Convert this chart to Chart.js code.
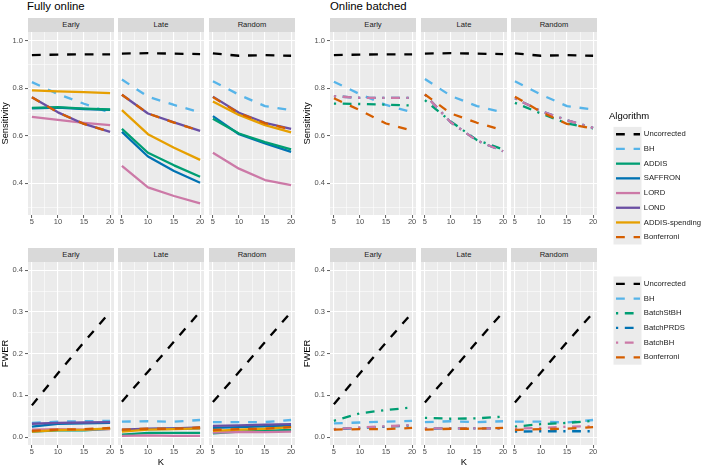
<!DOCTYPE html>
<html>
<head>
<meta charset="utf-8">
<script src="https://cdn.jsdelivr.net/npm/chart.js@4.4.1/dist/chart.umd.min.js"></script>
<style>
html, body { margin: 0; padding: 0; background: #ffffff; }
#root { position: relative; width: 709px; height: 469px; overflow: hidden; font-family: "Liberation Sans", Arial, Helvetica, sans-serif; }
#root canvas { position: absolute; }
.strip { position: absolute; background: #D9D9D9; color: #1A1A1A; font-size: 7.6px; text-align: center; white-space: nowrap; }
.gtitle { position: absolute; font-size: 11.4px; color: #000; white-space: nowrap; line-height: 13px; }
</style>
</head>
<body>
<div id="root"></div>
<script>
// ---------------- data ----------------
const kValues = [5, 10, 15, 20];
const facetNames = ['Early', 'Late', 'Random'];
const groupTitles = ['Fully online', 'Online batched'];
const kTicks = [5, 10, 15, 20];
const kMinorTicks = [7.5, 12.5, 17.5];
const sensTicks = [0.4, 0.6, 0.8, 1.0];
const sensMinorTicks = [0.3, 0.5, 0.7, 0.9];
const fwerTicks = [0.0, 0.1, 0.2, 0.3, 0.4];
const fwerMinorTicks = [0.05, 0.15, 0.25, 0.35];

const onlineAlgorithms = ['Uncorrected', 'BH', 'ADDIS', 'SAFFRON', 'LORD', 'LOND', 'ADDIS-spending', 'Bonferroni'];
const batchAlgorithms = ['Uncorrected', 'BH', 'BatchStBH', 'BatchPRDS', 'BatchBH', 'Bonferroni'];

// Fully online - Sensitivity  [Early, Late, Random] x K
const onlineSensUncorrected = [[0.940, 0.942, 0.943, 0.943], [0.946, 0.948, 0.946, 0.944], [0.947, 0.937, 0.940, 0.937]];
const onlineSensBH = [[0.826, 0.776, 0.735, 0.698], [0.837, 0.765, 0.730, 0.699], [0.830, 0.773, 0.725, 0.708]];
const onlineSensADDIS = [[0.718, 0.721, 0.715, 0.711], [0.629, 0.529, 0.476, 0.428], [0.672, 0.610, 0.574, 0.543]];
const onlineSensSAFFRON = [[0.716, 0.719, 0.713, 0.709], [0.617, 0.513, 0.452, 0.403], [0.683, 0.607, 0.568, 0.533]];
const onlineSensLORD = [[0.680, 0.667, 0.655, 0.645], [0.474, 0.383, 0.347, 0.316], [0.529, 0.462, 0.414, 0.393]];
const onlineSensLOND = [[0.762, 0.699, 0.650, 0.617], [0.773, 0.694, 0.657, 0.621], [0.765, 0.697, 0.655, 0.629]];
const onlineSensADDISspending = [[0.791, 0.787, 0.784, 0.780], [0.708, 0.607, 0.550, 0.499], [0.745, 0.688, 0.645, 0.615]];
const onlineSensBonferroni = [[0.762, 0.699, 0.650, 0.617], [0.773, 0.694, 0.656, 0.621], [0.763, 0.695, 0.653, 0.627]];

// Fully online - FWER
const onlineFwerUncorrected = [[0.076, 0.153, 0.228, 0.300], [0.085, 0.157, 0.229, 0.301], [0.084, 0.156, 0.228, 0.300]];
const onlineFwerBH = [[0.034, 0.037, 0.038, 0.039], [0.037, 0.038, 0.037, 0.041], [0.036, 0.036, 0.036, 0.041]];
const onlineFwerADDIS = [[0.013, 0.016, 0.016, 0.020], [0.006, 0.010, 0.010, 0.010], [0.009, 0.013, 0.015, 0.017]];
const onlineFwerSAFFRON = [[0.025, 0.032, 0.033, 0.034], [0.016, 0.019, 0.020, 0.021], [0.022, 0.024, 0.026, 0.027]];
const onlineFwerLORD = [[0.018, 0.019, 0.018, 0.019], [0.003, 0.004, 0.003, 0.003], [0.011, 0.012, 0.012, 0.013]];
const onlineFwerLOND = [[0.032, 0.034, 0.035, 0.036], [0.018, 0.020, 0.021, 0.023], [0.027, 0.028, 0.030, 0.031]];
const onlineFwerADDISspending = [[0.013, 0.017, 0.018, 0.021], [0.013, 0.018, 0.019, 0.021], [0.015, 0.018, 0.020, 0.024]];
const onlineFwerBonferroni = [[0.015, 0.018, 0.019, 0.022], [0.018, 0.020, 0.020, 0.023], [0.017, 0.019, 0.020, 0.024]];

// Online batched - Sensitivity
const batchSensUncorrected = [[0.940, 0.942, 0.943, 0.943], [0.946, 0.948, 0.946, 0.944], [0.947, 0.937, 0.940, 0.937]];
const batchSensBH = [[0.828, 0.775, 0.730, 0.699], [0.839, 0.768, 0.725, 0.699], [0.830, 0.774, 0.725, 0.711]];
const batchSensBatchStBH = [[0.736, 0.734, 0.731, 0.728], [0.750, 0.660, 0.582, 0.543], [0.739, 0.694, 0.652, 0.631]];
const batchSensBatchPRDS = [[0.767, 0.760, 0.760, 0.760], [0.774, 0.656, 0.580, 0.535], [0.758, 0.704, 0.666, 0.634]];
const batchSensBatchBH = [[0.767, 0.760, 0.760, 0.760], [0.774, 0.656, 0.580, 0.535], [0.758, 0.704, 0.666, 0.634]];
const batchSensBonferroni = [[0.758, 0.708, 0.652, 0.622], [0.774, 0.694, 0.655, 0.624], [0.765, 0.701, 0.650, 0.631]];

// Online batched - FWER
const batchFwerUncorrected = [[0.079, 0.153, 0.227, 0.298], [0.083, 0.156, 0.229, 0.300], [0.083, 0.155, 0.228, 0.298]];
const batchFwerBH = [[0.033, 0.035, 0.037, 0.039], [0.036, 0.038, 0.036, 0.038], [0.037, 0.037, 0.035, 0.041]];
const batchFwerBatchStBH = [[0.039, 0.057, 0.065, 0.071], [0.046, 0.044, 0.045, 0.049], [0.025, 0.031, 0.034, 0.039]];
const batchFwerBatchPRDS = [[0.019, 0.022, 0.025, 0.028], [0.020, 0.021, 0.021, 0.021], [0.013, 0.014, 0.014, 0.014]];
const batchFwerBatchBH = [[0.019, 0.023, 0.026, 0.029], [0.021, 0.021, 0.021, 0.021], [0.020, 0.022, 0.025, 0.026]];
const batchFwerBonferroni = [[0.018, 0.019, 0.019, 0.022], [0.018, 0.020, 0.020, 0.022], [0.017, 0.019, 0.020, 0.024]];

// ---------------- tables built from the arrays ----------------
const onlineSens = { 'Uncorrected': onlineSensUncorrected, 'BH': onlineSensBH, 'ADDIS': onlineSensADDIS, 'SAFFRON': onlineSensSAFFRON,
  'LORD': onlineSensLORD, 'LOND': onlineSensLOND, 'ADDIS-spending': onlineSensADDISspending, 'Bonferroni': onlineSensBonferroni };
const onlineFwer = { 'Uncorrected': onlineFwerUncorrected, 'BH': onlineFwerBH, 'ADDIS': onlineFwerADDIS, 'SAFFRON': onlineFwerSAFFRON,
  'LORD': onlineFwerLORD, 'LOND': onlineFwerLOND, 'ADDIS-spending': onlineFwerADDISspending, 'Bonferroni': onlineFwerBonferroni };
const batchSens = { 'Uncorrected': batchSensUncorrected, 'BH': batchSensBH, 'BatchStBH': batchSensBatchStBH, 'BatchPRDS': batchSensBatchPRDS,
  'BatchBH': batchSensBatchBH, 'Bonferroni': batchSensBonferroni };
const batchFwer = { 'Uncorrected': batchFwerUncorrected, 'BH': batchFwerBH, 'BatchStBH': batchFwerBatchStBH, 'BatchPRDS': batchFwerBatchPRDS,
  'BatchBH': batchFwerBatchBH, 'Bonferroni': batchFwerBonferroni };

// ---------------- styles ----------------
const LW = 2.3;
const DASHED = [8.8, 8.8];
const DOTDASH = [2.2, 6.6, 8.8, 6.6];
const algoColor = { 'Uncorrected': '#000000', 'BH': '#56B4E9', 'ADDIS': '#009E73', 'SAFFRON': '#0072B2', 'LORD': '#CC79A7',
  'LOND': '#6A4FA3', 'ADDIS-spending': '#E69F00', 'Bonferroni': '#D55E00', 'BatchStBH': '#009E73', 'BatchPRDS': '#0072B2', 'BatchBH': '#CC79A7' };
const algoDash = { 'Uncorrected': DASHED, 'BH': DASHED, 'Bonferroni': DASHED, 'BatchStBH': DOTDASH, 'BatchPRDS': DOTDASH, 'BatchBH': DOTDASH };
// bottom -> top drawing order
const onlineDrawOrder = ['Uncorrected', 'BH', 'SAFFRON', 'ADDIS', 'LORD', 'LOND', 'ADDIS-spending', 'Bonferroni'];
const batchDrawOrder = ['Uncorrected', 'BH', 'BatchStBH', 'BatchPRDS', 'BatchBH', 'Bonferroni'];

Chart.defaults.font.family = '"Liberation Sans", Arial, Helvetica, sans-serif';

const root = document.getElementById('root');
const PANEL_W = 86, PANEL_H = 183, STRIP_H = 14, YAXIS_W = 28, RIGHT_PAD = 4;
const panelX = [[28, 118, 209], [330, 421, 511]];
const rowTops = [32, 262];
const xAxisH = [14, 24];
const axisCfg = [
  { min: 0.267, max: 1.037, major: sensTicks, minor: sensMinorTicks, title: 'Sensitivity' },
  { min: -0.019, max: 0.42, major: fwerTicks, minor: fwerMinorTicks, title: 'FWER' }
];

const panelBg = {
  id: 'panelBg',
  beforeDraw(chart) {
    const a = chart.chartArea, c = chart.ctx;
    c.save(); c.fillStyle = '#EBEBEB';
    c.fillRect(a.left, a.top, a.right - a.left, a.bottom - a.top);
    c.restore();
  }
};

function isIn(list, v) { return list.some(m => Math.abs(m - v) < 1e-9); }

function addDiv(cls, text, left, top, width, height) {
  const d = document.createElement('div');
  d.className = cls; d.textContent = text;
  d.style.left = left + 'px'; d.style.top = top + 'px';
  if (width != null) d.style.width = width + 'px';
  if (height != null) { d.style.height = height + 'px'; d.style.lineHeight = height + 'px'; }
  root.appendChild(d);
  return d;
}

function buildDatasets(table, order, f) {
  const ds = order.map(name => ({
    label: name,
    data: kValues.map((k, i) => ({ x: k, y: table[name][f][i] })),
    borderColor: algoColor[name],
    backgroundColor: algoColor[name],
    borderWidth: LW,
    borderDash: algoDash[name] || [],
    borderCapStyle: 'butt',
    borderJoinStyle: 'round',
    pointRadius: 0,
    tension: 0,
    fill: false
  }));
  ds.forEach((d, i) => { d.order = ds.length - 1 - i; });
  return ds;
}

function makePanel(g, r, f) {
  const isLeft = f === 0;
  const px = panelX[g][f], py = rowTops[r];
  const axW = isLeft ? YAXIS_W : 0;
  const w = axW + PANEL_W + RIGHT_PAD, h = PANEL_H + xAxisH[r];
  const cv = document.createElement('canvas');
  cv.width = w; cv.height = h;
  cv.style.left = (px - axW) + 'px'; cv.style.top = py + 'px';
  cv.style.width = w + 'px'; cv.style.height = h + 'px';
  root.appendChild(cv);
  addDiv('strip', facetNames[f], px, py - STRIP_H, PANEL_W, STRIP_H);

  const yc = axisCfg[r];
  const table = g === 0 ? (r === 0 ? onlineSens : onlineFwer) : (r === 0 ? batchSens : batchFwer);
  const order = g === 0 ? onlineDrawOrder : batchDrawOrder;
  const majX = v => isIn(kTicks, v);
  const majY = v => isIn(yc.major, v);

  new Chart(cv, {
    type: 'line',
    data: { datasets: buildDatasets(table, order, f) },
    options: {
      responsive: false, animation: false, events: [],
      layout: { padding: { left: 0, top: 0, bottom: 0, right: RIGHT_PAD } },
      plugins: { legend: { display: false }, tooltip: { enabled: false } },
      scales: {
        x: {
          type: 'linear', min: 4.25, max: 20.75,
          afterBuildTicks: s => { s.ticks = kTicks.concat(kMinorTicks).sort((a, b) => a - b).map(v => ({ value: v })); },
          afterFit: s => { s.height = xAxisH[r]; s.paddingLeft = 0; s.paddingRight = 0; },
          border: { display: false },
          grid: {
            color: '#FFFFFF',
            lineWidth: c => (c.tick && majX(c.tick.value)) ? 1.1 : 0.55,
            drawTicks: true, tickLength: 3, tickWidth: 0.8,
            tickColor: c => (c.tick && majX(c.tick.value)) ? '#333333' : 'rgba(0,0,0,0)'
          },
          ticks: {
            autoSkip: false, maxRotation: 0, minRotation: 0, padding: 0.5, color: '#4D4D4D',
            font: { size: 7.5, lineHeight: 1 },
            callback: v => majX(v) ? String(v) : ''
          },
          title: {
            display: (r === 1 && f === 1), text: 'K', color: '#000000',
            font: { size: 9.4 }, padding: { top: 0, bottom: 1 }
          }
        },
        y: {
          type: 'linear', min: yc.min, max: yc.max,
          afterBuildTicks: s => { s.ticks = yc.major.concat(yc.minor).sort((a, b) => a - b).map(v => ({ value: v })); },
          afterFit: s => { s.width = axW; s.paddingTop = 0; s.paddingBottom = 0; },
          border: { display: false },
          grid: {
            color: '#FFFFFF',
            lineWidth: c => (c.tick && majY(c.tick.value)) ? 1.1 : 0.55,
            drawTicks: isLeft, tickLength: 3, tickWidth: 0.8,
            tickColor: c => (c.tick && majY(c.tick.value)) ? '#333333' : 'rgba(0,0,0,0)'
          },
          ticks: {
            display: isLeft, autoSkip: false, padding: 2, color: '#4D4D4D',
            font: { size: 7.5 },
            callback: v => majY(v) ? Number(v).toFixed(1) : ''
          },
          title: {
            display: isLeft, text: yc.title, color: '#000000',
            font: { size: 9.4 }, padding: { top: 0, bottom: 0 }
          }
        }
      }
    },
    plugins: [panelBg]
  });
}

for (let g = 0; g < 2; g++) {
  addDiv('gtitle', groupTitles[g], g === 0 ? 27 : 330, 0);
  for (let r = 0; r < 2; r++) for (let f = 0; f < 3; f++) makePanel(g, r, f);
}

// ---------------- legends ----------------
const LEG_FS = 7.7, LEG_PAD = 7, LEG_BOXW = 24;
const keyBg = {
  id: 'keyBg',
  beforeDraw(chart) {
    const hb = chart.legend && chart.legend.legendHitBoxes;
    if (!hb || !hb.length) return;
    const c = chart.ctx;
    const top = hb[0].top + LEG_FS / 2 - 7.35;
    const bot = hb[hb.length - 1].top + LEG_FS / 2 + 7.35;
    c.save(); c.fillStyle = '#EBEBEB';
    c.fillRect(hb[0].left - 2.5, top, LEG_BOXW + 4, bot - top);
    c.restore();
  }
};

function makeLegend(left, top, w, h, names, titleText) {
  const cv = document.createElement('canvas');
  cv.width = w; cv.height = h;
  cv.style.left = left + 'px'; cv.style.top = top + 'px';
  cv.style.width = w + 'px'; cv.style.height = h + 'px';
  root.appendChild(cv);
  new Chart(cv, {
    type: 'line',
    data: {
      datasets: names.map(n => ({
        label: n, data: [], borderColor: algoColor[n], backgroundColor: algoColor[n],
        borderWidth: LW, borderDash: algoDash[n] || [], pointStyle: 'line'
      }))
    },
    options: {
      responsive: false, animation: false, events: [],
      layout: { padding: 0 },
      scales: { x: { display: false }, y: { display: false } },
      plugins: {
        tooltip: { enabled: false },
        legend: {
          display: true, position: 'left', align: 'start', maxWidth: w,
          title: { display: !!titleText, text: titleText || '', color: '#000000', position: 'start',
            font: { size: 9.5 }, padding: { top: 0, bottom: 0 } },
          labels: {
            usePointStyle: true, pointStyleWidth: LEG_BOXW, padding: LEG_PAD, color: '#1A1A1A',
            font: { size: LEG_FS },
            generateLabels: chart => chart.data.datasets.map((d, i) => ({
              text: d.label, fillStyle: d.borderColor, strokeStyle: d.borderColor, fontColor: '#1A1A1A',
              lineWidth: d.borderWidth, lineDash: d.borderDash, lineDashOffset: 0, lineCap: 'butt',
              pointStyle: 'line', rotation: 0, hidden: false, datasetIndex: i
            }))
          }
        }
      }
    },
    plugins: [keyBg]
  });
}

makeLegend(609, 112, 100, 145, onlineAlgorithms, 'Algorithm');
makeLegend(609, 273, 100, 100, batchAlgorithms, null);
</script>
</body>
</html>
